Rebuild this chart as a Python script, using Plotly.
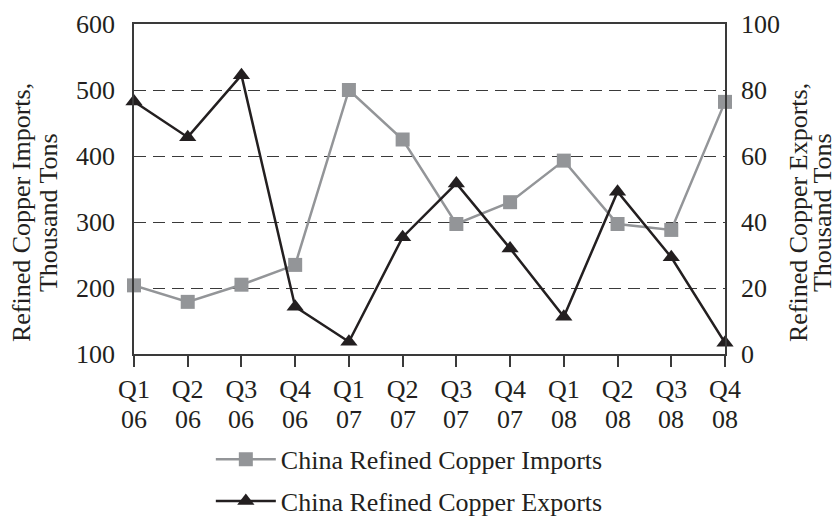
import plotly.graph_objects as go

# Quarterly refined copper trade, China (thousand tons)
quarters = ["Q1", "Q2", "Q3", "Q4", "Q1", "Q2", "Q3", "Q4", "Q1", "Q2", "Q3", "Q4"]
years = ["06", "06", "06", "06", "07", "07", "07", "07", "08", "08", "08", "08"]
imports = [204, 179, 205, 235, 500, 425, 297, 330, 393, 297, 288, 482]
exports = [76.5, 65.7, 84.5, 14.3, 3.7, 35.4, 51.7, 32.0, 11.3, 49.2, 29.3, 3.4]

left_title = ["Refined Copper Imports,", "Thousand Tons"]
right_title = ["Refined Copper Exports,", "Thousand Tons"]

periods = [f"{q} {y}" for q, y in zip(quarters, years)]

FONT = "Liberation Serif, Times New Roman, serif"
GRAY = "#939598"
BLACK = "#231f20"
AXIS = "#3a3a3a"
FS = 26

fig = go.Figure()
fig.add_trace(go.Scatter(
    x=periods, y=imports, name="China Refined Copper Imports",
    mode="lines+markers", legendgroup="imp",
    line=dict(color=GRAY, width=2.5),
    marker=dict(symbol="square", size=14, color=GRAY),
    cliponaxis=False, yaxis="y"))
fig.add_trace(go.Scatter(
    x=periods, y=exports, name="China Refined Copper Exports",
    mode="lines+markers", legendgroup="exp",
    line=dict(color=BLACK, width=2.5),
    marker=dict(symbol="triangle-up", size=15, color=BLACK),
    cliponaxis=False, yaxis="y2"))

# second row of the category labels: the year under each quarter
for p, yr in zip(periods, years):
    fig.add_annotation(x=p, xref="x", y=0, yref="paper", text=yr,
                       showarrow=False, yanchor="top", yshift=-49,
                       font=dict(family=FONT, size=FS, color=BLACK))

# vertical axis titles, one annotation per line for tight line spacing
for xpos, shifts, lines in ((0, (-113, -86), left_title),
                            (1, (73, 97), right_title)):
    for dx, line in zip(shifts, lines):
        fig.add_annotation(x=xpos, xref="paper", y=0.427, yref="paper",
                           text=line, textangle=-90, showarrow=False,
                           xanchor="center", yanchor="middle", xshift=dx,
                           borderpad=0,
                           font=dict(family=FONT, size=FS, color=BLACK))

fig.update_layout(
    width=837, height=518,
    margin=dict(l=134, r=112, t=24, b=164, autoexpand=False),
    paper_bgcolor="white", plot_bgcolor="white",
    font=dict(family=FONT, size=FS, color=BLACK),
    showlegend=True,
    legend=dict(x=0.13, y=-0.248, xanchor="left", yanchor="top",
                traceorder="grouped", tracegroupgap=5, itemwidth=60,
                font=dict(family=FONT, size=FS, color=BLACK),
                bgcolor="rgba(0,0,0,0)"),
    xaxis=dict(
        type="category", range=[0, len(periods) - 1],
        tickvals=periods, ticktext=quarters, automargin=False,
        showline=True, linecolor=AXIS, linewidth=1.5, mirror=True,
        ticks="outside", ticklen=11, tickcolor=AXIS, tickwidth=1.5,
        showgrid=False, tickfont=dict(size=FS),
    ),
    yaxis=dict(
        range=[100, 600], dtick=100, automargin=False,
        showline=True, linecolor=AXIS, linewidth=1.5, mirror=True,
        ticks="", showgrid=True, gridcolor=AXIS, gridwidth=1.2,
        griddash="12px,7px", zeroline=False, ticklabelstandoff=12,
        tickfont=dict(size=FS),
    ),
    yaxis2=dict(
        range=[0, 100], dtick=20, overlaying="y", side="right",
        automargin=False,
        showline=True, linecolor=AXIS, linewidth=1.5,
        ticks="", showgrid=False, zeroline=False, ticklabelstandoff=9,
        tickfont=dict(size=FS),
    ),
)

fig.write_html("out.html")
